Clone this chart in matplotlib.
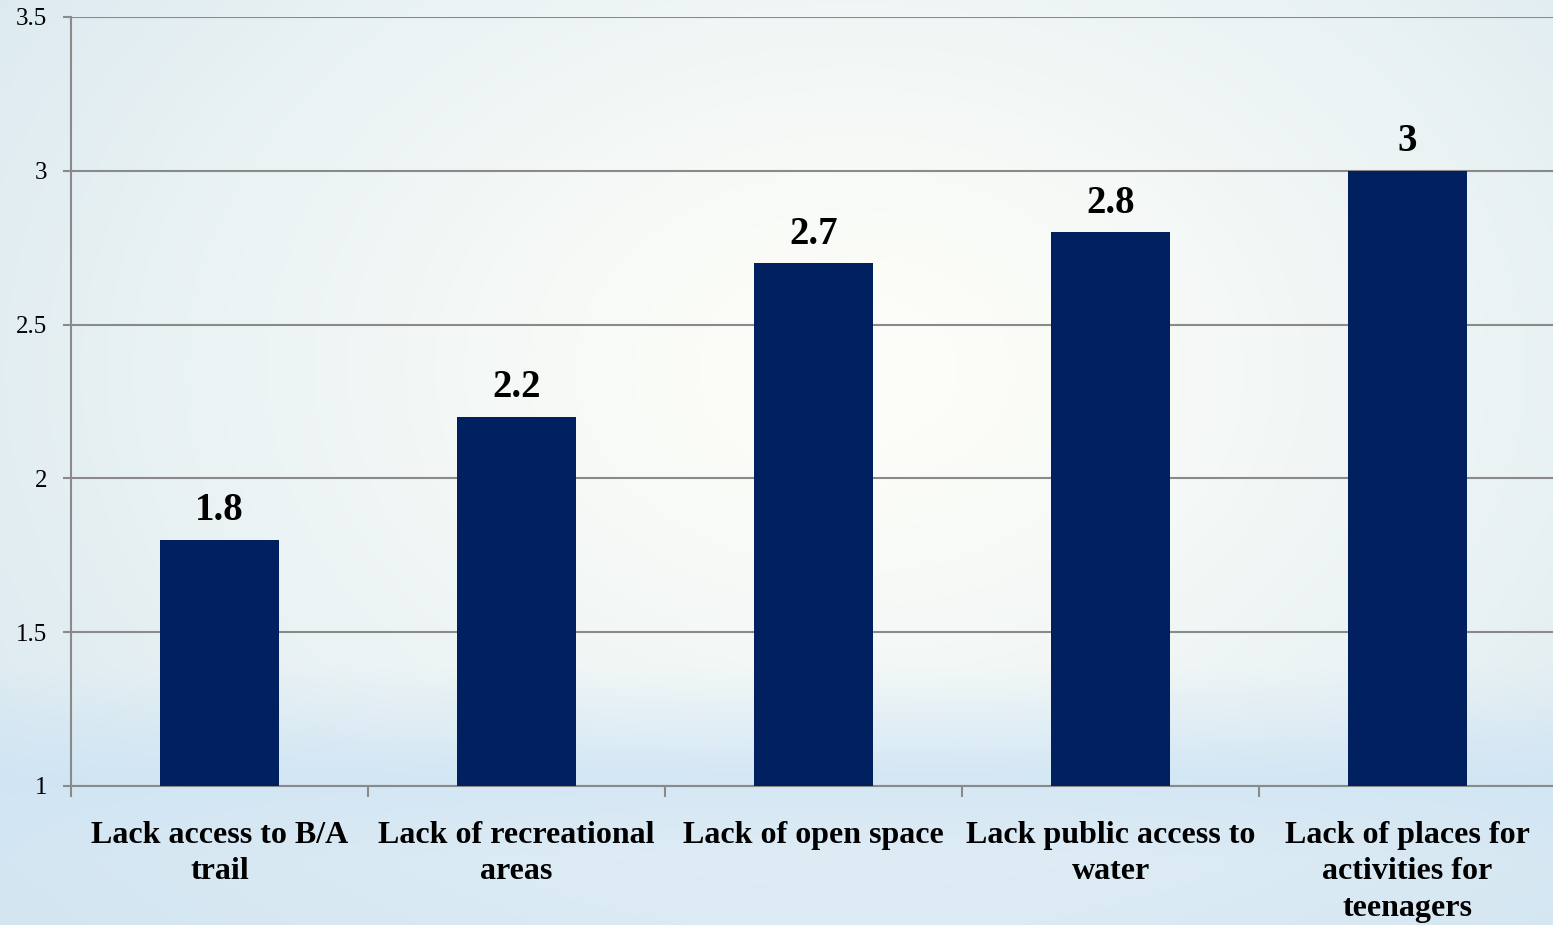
import numpy as np
import matplotlib.pyplot as plt

categories = ["Lack access to B/A\ntrail", "Lack of recreational\nareas", "Lack of open space",
              "Lack public access to\nwater", "Lack of places for\nactivities for\nteenagers"]
values = [1.8, 2.2, 2.7, 2.8, 3.0]
value_labels = ["1.8", "2.2", "2.7", "2.8", "3"]
yticks = [1, 1.5, 2, 2.5, 3, 3.5]
ytick_labels = ["1", "1.5", "2", "2.5", "3", "3.5"]

plt.rcParams['font.family'] = ['Liberation Serif', 'DejaVu Serif']

W, H = 1553, 925
fig = plt.figure(figsize=(W / 100, H / 100), dpi=100)

# background gradient: pale centre, light blue edges, bluish band at the bottom
yy, xx = np.mgrid[0:H, 0:W]
cx, cy = 0.55 * W, 0.40 * H
r = np.sqrt(((xx - cx) / (0.7 * W)) ** 2 + ((yy - cy) / (0.85 * H)) ** 2)
r = np.clip(r, 0, 1) ** 1.3
centre = np.array([0.995, 0.995, 0.975])
edge = np.array([0.85, 0.91, 0.94])
img = centre[None, None, :] * (1 - r[..., None]) + edge[None, None, :] * r[..., None]
band = np.clip((yy / H - 0.72) / 0.12, 0, 1) * np.clip(1 - (yy / H - 0.84) / 0.2, 0.55, 1)
blue = np.array([0.80, 0.89, 0.96])
img = img * (1 - 0.75 * band[..., None]) + blue[None, None, :] * 0.75 * band[..., None]
bg = fig.add_axes([0, 0, 1, 1], zorder=-10)
bg.imshow(img, aspect='auto', extent=[0, 1, 0, 1])
bg.axis('off')

ax = fig.add_axes([71 / W, 1 - 786 / H, 1485 / W, (786 - 17) / H])
ax.patch.set_alpha(0)
x = np.arange(len(categories))
ax.bar(x, values, width=0.4, bottom=0, color='#002060', zorder=3)
ax.set_ylim(1, 3.5)
ax.set_xlim(-0.5, len(categories) - 0.5)

for xi, v, lab in zip(x, values, value_labels):
    ax.annotate(lab, (xi, v), xytext=(0, 14), textcoords='offset points',
                ha='center', va='baseline', fontsize=28, fontweight='bold')

ax.set_yticks(yticks)
ax.set_yticklabels(ytick_labels, fontsize=18)
ax.yaxis.grid(True, color='#8a8a8a', linewidth=1.5, zorder=0)
ax.set_axisbelow(True)

ax.set_xticks(x)
ax.set_xticklabels(categories, fontsize=23, fontweight='bold', linespacing=1.34)
ax.set_xticks(np.arange(len(categories) + 1) - 0.5, minor=True)
ax.tick_params(axis='x', which='major', length=0, pad=25)
ax.tick_params(axis='x', which='minor', length=8, color='#8a8a8a', width=1.5, direction='out')
ax.tick_params(axis='y', length=6, color='#8a8a8a', width=1.5, pad=11)

for s in ['top', 'right']:
    ax.spines[s].set_visible(False)
for s in ['left', 'bottom']:
    ax.spines[s].set_color('#8a8a8a')
    ax.spines[s].set_linewidth(1.5)

fig.savefig('out.png', dpi=100)
